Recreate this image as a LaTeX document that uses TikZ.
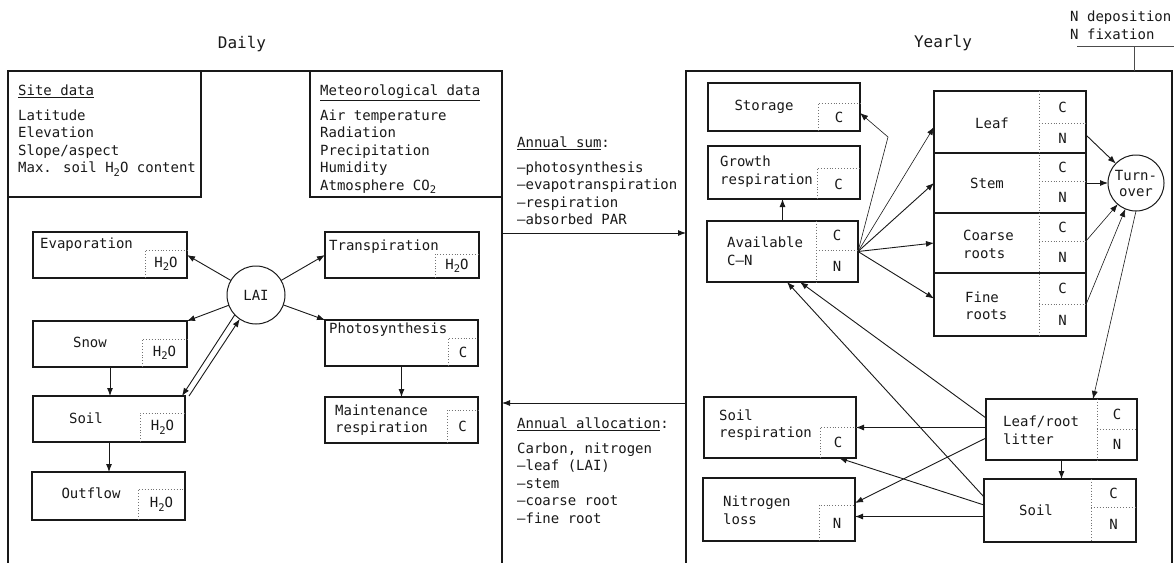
\documentclass[tikz,border=0pt]{standalone}
\usepackage{fontspec}
\newfontfamily\dmono{DejaVu Sans Mono}
\usetikzlibrary{arrows.meta,calc}
\newcommand{\lowtwo}{\raisebox{-0.45ex}{\fontsize{10.5}{10}\selectfont 2}}
\newcommand{\mybox}[5]{\node[box, minimum width={(#4-#2)*1pt}, minimum height={(#5-#3)*1pt}] (#1) at ({(#2+#4)/2},{(#3+#5)/2}) {};}
\begin{document}
\begin{tikzpicture}[x=1pt,y=-1pt,
  box/.style={draw=black!90, line width=1.5pt, inner sep=0pt, outer sep=0pt, rectangle},
  comp/.style={draw=black!55, dotted, line width=0.9pt},
  arr/.style={draw=black!90, line width=0.9pt, -{Latex[length=8pt,width=6pt]}},
  arrthin/.style={arr, line width=0.6pt},
  txt/.style={inner sep=0pt, font=\dmono\fontsize{14}{17.5}\selectfont, align=left, text=black!90},
  ctr/.style={txt, align=center},
  ttl/.style={inner sep=0pt, font=\dmono\fontsize{16}{18}\selectfont, text=black!90},
  circ/.style={draw=black!90, line width=1pt, circle, inner sep=0pt, outer sep=0pt, font=\dmono\fontsize{14}{16}\selectfont, align=center, text=black!90}
]
\useasboundingbox[fill=white] (0,0) rectangle (1174,562);

% titles
\node[ttl] (daily) at (242,44) {Daily};
\node[ttl] (yearly) at (943,43) {Yearly};
\node[txt, anchor=west] (ndep) at (1070,25.5) {N deposition\\N fixation};
\coordinate (ndj) at (1134,46);
\draw[line width=0.8pt, black!70] (1077,46) -- (1180,46);

% panels
\mybox{lpanel}{8}{71}{502}{600}
\mybox{rpanel}{686}{71}{1172}{600}
\draw[line width=0.8pt, black!70] (ndj) -- (ndj |- rpanel.north);

% ---------- left panel ----------
\mybox{site}{8}{71}{201}{197}
\mybox{met}{310}{71}{502}{197}
\node[txt, anchor=north west] (sitet) at (18,84.5) {\underline{Site data}\\[7.5pt]Latitude\\Elevation\\Slope/aspect\\Max. soil H\lowtwo O content};
\node[txt, anchor=north west] (mett) at (320,84.5) {\underline{Meteorological data}\\[7.5pt]Air temperature\\Radiation\\Precipitation\\Humidity\\Atmosphere CO\lowtwo};

\mybox{evap}{33}{232}{187}{278}
\draw[comp] (145,278) -- (145,250) -- (187,250);
\node[txt, anchor=west] (evapt) at (40,245) {Evaporation};
\node[ctr] (evapw) at (166,264) {H\lowtwo O};

\mybox{trans}{325}{232}{479}{278}
\draw[comp] (435,278) -- (435,254) -- (479,254);
\node[txt, anchor=west] (transt) at (329,247) {Transpiration};
\node[ctr] (transw) at (457,266) {H\lowtwo O};

\mybox{snow}{33}{321}{187}{367}
\draw[comp] (142,367) -- (142,339) -- (187,339);
\node[ctr] (snowt) at (90,342) {Snow};
\node[ctr] (snoww) at (164.5,353) {H\lowtwo O};

\mybox{photo}{325}{320}{478}{366}
\draw[comp] (448,366) -- (448,338) -- (478,338);
\node[txt, anchor=west] (photot) at (329,330) {Photosynthesis};
\node[ctr] (photoc) at (463,352) {C};

\mybox{soilL}{33}{396}{185}{442}
\draw[comp] (140,442) -- (140,413) -- (185,413);
\node[ctr] (soilLt) at (86,418) {Soil};
\node[ctr] (soilLw) at (162.5,427.5) {H\lowtwo O};

\mybox{maint}{325}{397}{478}{443}
\draw[comp] (447,443) -- (447,410) -- (478,410);
\node[txt, anchor=west] (maintt) at (335,420) {Maintenance\\respiration};
\node[ctr] (maintc) at (462.5,426.5) {C};

\mybox{outflow}{32}{472}{185}{520}
\draw[comp] (138,520) -- (138,489) -- (185,489);
\node[ctr] (outflowt) at (91,493) {Outflow};
\node[ctr] (outfloww) at (161.5,504.5) {H\lowtwo O};

\node[circ, minimum size=58pt] (lai) at (256,295) {LAI};

\draw[arr] (lai) -- (evap.east);
\draw[arr] (lai) -- (snow.north east);
\draw[arr] (lai) -- (trans.west);
\draw[arr] (lai) -- (photo.north west);
\draw[arr] (lai.223) -- ([xshift=-3pt]soilL.north east);
\draw[arr] ([xshift=4pt]soilL.north east) -- (lai.236);
\draw[arr] (snow.south) -- (snow.south |- soilL.north);
\draw[arr] (soilL.south) -- (soilL.south |- outflow.north);
\draw[arr] (photo.south) -- (photo.south |- maint.north);

% ---------- middle ----------
\node[txt, anchor=north west] (sumt) at (517,136.5) {\underline{Annual sum}:\\[7.5pt]–photosynthesis\\–evapotranspiration\\–respiration\\–absorbed PAR};
\node[txt, anchor=north west] (alloct) at (517,417.5) {\underline{Annual allocation}:\\[7.5pt]Carbon, nitrogen\\–leaf (LAI)\\–stem\\–coarse root\\–fine root};
\coordinate (sumA) at (502,233);
\coordinate (allB) at (686,403);
\draw[arr] (sumA) -- (sumA -| rpanel.west);
\draw[arr] (allB) -- (allB -| lpanel.east);

% ---------- right panel ----------
\mybox{storage}{708}{83}{860}{131}
\draw[comp] (818,131) -- (818,103) -- (860,103);
\node[ctr] (storaget) at (764,107) {Storage};
\node[ctr] (storagec) at (839,117) {C};

\mybox{growth}{708}{146}{860}{199}
\draw[comp] (817,199) -- (817,168) -- (860,168);
\node[txt, anchor=west] (growtht) at (720,171.5) {Growth\\respiration};
\node[ctr] (growthc) at (838.5,184) {C};

\mybox{avail}{707}{221}{858}{282}
\draw[comp] (816,221) -- (816,282);
\draw[comp] (816,250) -- (858,250);
\node[txt, anchor=west] (availt) at (727,251) {Available\\C–N};
\node[ctr] (availc) at (837,235.5) {C};
\node[ctr] (availn) at (837,266) {N};

\mybox{leaf}{934}{91}{1086}{153}
\mybox{stem}{934}{153}{1086}{213}
\mybox{coarse}{934}{213}{1086}{273}
\mybox{fine}{934}{273}{1086}{336}
\draw[comp] (1039,91) -- (1039,336);
\draw[comp] (1039,123) -- (1086,123);
\draw[comp] (1039,181) -- (1086,181);
\draw[comp] (1039,241) -- (1086,241);
\draw[comp] (1039,304) -- (1086,304);
\node[ctr] (leaft) at (992,123) {Leaf};
\node[ctr] (stemt) at (987,183) {Stem};
\node[txt, anchor=west] (coarset) at (963,244.5) {Coarse\\roots};
\node[txt, anchor=west] (finet) at (965,306) {Fine\\roots};
\node[ctr] (leafc) at (1062.5,107) {C};
\node[ctr] (leafn) at (1062.5,138) {N};
\node[ctr] (stemc) at (1062.5,167) {C};
\node[ctr] (stemn) at (1062.5,197) {N};
\node[ctr] (coarsec) at (1062.5,227) {C};
\node[ctr] (coarsen) at (1062.5,257) {N};
\node[ctr] (finec) at (1062.5,288.5) {C};
\node[ctr] (finen) at (1062.5,320) {N};

\node[circ, minimum size=56pt] (turn) at (1136,183) {Turn-\\over};

\mybox{litter}{986}{399}{1137}{460}
\draw[comp] (1097,399) -- (1097,460);
\draw[comp] (1097,429) -- (1137,429);
\node[txt, anchor=west] (littert) at (1003,430.5) {Leaf/root\\litter};
\node[ctr] (litterc) at (1117,414) {C};
\node[ctr] (littern) at (1117,444.5) {N};

\mybox{soilR}{984}{479}{1136}{542}
\draw[comp] (1091,479) -- (1091,542);
\draw[comp] (1091,507) -- (1136,507);
\node[ctr] (soilRt) at (1036,510) {Soil};
\node[ctr] (soilRc) at (1113.5,493) {C};
\node[ctr] (soilRn) at (1113.5,524.5) {N};

\mybox{sresp}{704}{397}{856}{458}
\draw[comp] (820,458) -- (820,427) -- (856,427);
\node[txt, anchor=west] (srespt) at (719,425) {Soil\\respiration};
\node[ctr] (srespc) at (838,442.5) {C};

\mybox{nloss}{703}{478}{855}{541}
\draw[comp] (819,541) -- (819,505) -- (855,505);
\node[txt, anchor=west] (nlosst) at (723,510.5) {Nitrogen\\loss};
\node[ctr] (nlossn) at (837,523) {N};

% right connectors
\coordinate (bendS) at (888,137);
\draw[arrthin] (avail.east) -- (bendS) -- ([yshift=-6pt]storage.east);
\draw[arrthin] (avail.east) -- ([yshift=-5pt]leaf.west);
\draw[arr] (avail.east) -- (stem.west);
\draw[arr] (avail.east) -- (coarse.west);
\draw[arr] (avail.east) -- ([yshift=6pt]fine.west);
\draw[arr] (avail.north) -- (avail.north |- growth.south);

\draw[arr] ([yshift=-13pt]leaf.east) -- (turn);
\draw[arr] (stem.east) -- (turn);
\draw[arrthin] ([yshift=2pt]coarse.east) -- (turn);
\draw[arrthin] (fine.east) -- (turn);
\draw[arrthin] (turn.south) -- ([xshift=31.5pt]litter.north);

\draw[arr] (litter.south) -- (litter.south |- soilR.north);
\draw[arr] (sresp.east -| litter.west) -- (sresp.east);
\draw[arr] ([yshift=5.5pt]soilR.west) -- ([xshift=59pt]sresp.south);
\draw[arr] ([yshift=-8.5pt]litter.west) -- ([yshift=6.5pt]nloss.east);
\coordinate (nl1) at ([yshift=-7pt]nloss.east);
\draw[arr] (nl1 -| soilR.west) -- (nl1);
\draw[arr] ([yshift=11.5pt]litter.west) -- ([xshift=17.5pt]avail.south);
\draw[arr] ([yshift=13.5pt]soilR.west) -- ([xshift=4.5pt]avail.south);
\end{tikzpicture}
\end{document}
